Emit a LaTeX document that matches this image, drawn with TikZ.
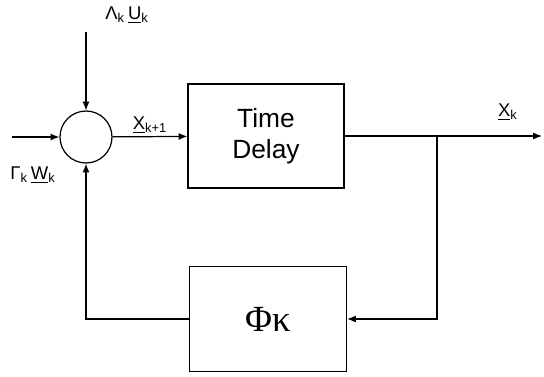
\documentclass[tikz,border=0pt]{standalone}
\usepackage{fontspec}
\setmainfont{Liberation Sans}
\newfontfamily\phifont{Liberation Serif}
\usetikzlibrary{arrows.meta,positioning}

\begin{document}
\begin{tikzpicture}[x=0.02cm,y=-0.02cm,line width=0.7pt,
  blockbox/.style={draw,minimum width=3.12cm,minimum height=2.08cm,align=center},
  sumnode/.style={draw,circle,minimum size=1.04cm,inner sep=0pt},
  sig/.style={-{Latex[length=5pt,width=4pt]}},
  lbl/.style={font=\fontsize{10.5}{12}\selectfont,inner sep=1pt}]
  \useasboundingbox (0,0) rectangle (544,376);
  % blocks
  \node[sumnode] (sum) at (86,137) {};
  \node[blockbox,font=\fontsize{15}{18}\selectfont] (delay) at (266,136) {Time\\Delay};
  \node[blockbox,minimum width=3.14cm,minimum height=2.1cm,font=\phifont\fontsize{21}{24}\selectfont] (phi) at (268,319) {Φκ};
  % free ends
  \coordinate (in) at (12,137);
  \coordinate (top) at (86,32);
  \coordinate (out) at (542,136);
  \coordinate (branch) at (437,136);
  \coordinate (rcorner) at (437,319);
  \coordinate (lcorner) at (86,319);
  % signals
  \draw[sig] (in) -- (sum);
  \draw[sig] (top) -- (sum);
  \draw[sig] (sum) -- (delay);
  \draw[sig] (delay) -- (out);
  \draw[sig] (branch) -- (rcorner) -- (phi);
  \draw[sig] (phi) -- (lcorner) -- (sum);
  % labels
  \node[lbl] (ulab) at (127,15) {Λ\textsubscript{k}\,\underline{U}\textsubscript{k}};
  \node[lbl] (wlab) at (33,175) {Γ\textsubscript{k}\,\underline{W}\textsubscript{k}};
  \node[lbl] (xnext) at (150,125) {\underline{X}\textsubscript{k+1}};
  \node[lbl] (xout) at (508,112) {\underline{X}\textsubscript{k}};
\end{tikzpicture}
\end{document}
